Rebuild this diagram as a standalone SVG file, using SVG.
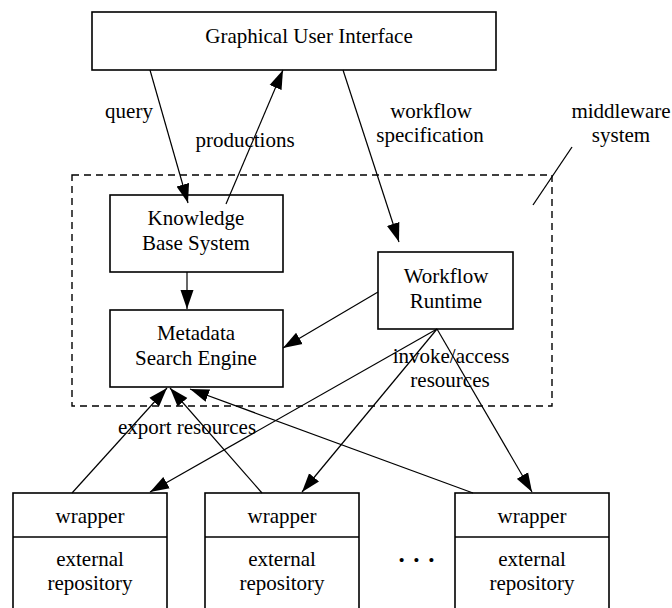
<svg xmlns="http://www.w3.org/2000/svg" width="672" height="608" viewBox="0 0 672 608">
<style>
text{font-family:"Liberation Serif","Times New Roman",serif;font-size:21px;fill:#000;text-anchor:middle}
.box{fill:#fff;stroke:#000;stroke-width:1.6}
.edge{stroke:#000;stroke-width:1.2;fill:none;marker-end:url(#ah)}
.plain{stroke:#000;stroke-width:1.3;fill:none}
</style>
<defs>
<marker id="ah" markerUnits="userSpaceOnUse" markerWidth="20" markerHeight="14" viewBox="0 0 20 14" refX="19" refY="7" orient="auto">
<path d="M0,0.5 L19,7 L0,13.5 z" fill="#000"/>
</marker>
</defs>
<rect width="672" height="608" fill="#fff"/>
<g id="middleware">
<rect x="72" y="175" width="480" height="231" fill="none" stroke="#000" stroke-width="1.4" stroke-dasharray="7,5"/>
<line class="plain" x1="533" y1="205" x2="572" y2="147"/>
<text x="621" y="118">middleware</text>
<text x="621" y="142">system</text>
</g>
<g id="gui">
<rect class="box" x="92" y="12" width="404" height="58"/>
<text x="309" y="43">Graphical User Interface</text>
</g>
<g id="kbs">
<rect class="box" x="110" y="195" width="173" height="77"/>
<text x="196" y="225">Knowledge</text>
<text x="196" y="250">Base System</text>
</g>
<g id="mse">
<rect class="box" x="110" y="310" width="173" height="77"/>
<text x="196" y="340">Metadata</text>
<text x="196" y="365">Search Engine</text>
</g>
<g id="wfr">
<rect class="box" x="378" y="252" width="135" height="77"/>
<text x="446" y="283">Workflow</text>
<text x="446" y="308">Runtime</text>
</g>
<g id="repo1">
<rect class="box" x="13" y="493" width="154" height="130"/>
<line class="plain" x1="13" y1="537" x2="167" y2="537" stroke-width="1.6"/>
<text x="90" y="523">wrapper</text>
<text x="90" y="566">external</text>
<text x="90" y="590">repository</text>
</g>
<g id="repo2">
<rect class="box" x="205" y="493" width="154" height="130"/>
<line class="plain" x1="205" y1="537" x2="359" y2="537" stroke-width="1.6"/>
<text x="282" y="523">wrapper</text>
<text x="282" y="566">external</text>
<text x="282" y="590">repository</text>
</g>
<g id="repo3">
<rect class="box" x="455" y="493" width="154" height="130"/>
<line class="plain" x1="455" y1="537" x2="609" y2="537" stroke-width="1.6"/>
<text x="532" y="523">wrapper</text>
<text x="532" y="566">external</text>
<text x="532" y="590">repository</text>
</g>
<g id="ellipsis">
<text x="417" y="562" style="font-size:25px;font-weight:bold;letter-spacing:1.2px">. . .</text>
</g>
<g id="connectors">
<line class="edge" x1="150" y1="70" x2="188" y2="203"/>
<line class="edge" x1="226" y1="204" x2="283" y2="70"/>
<line class="edge" x1="343" y1="70" x2="399" y2="242"/>
<line class="edge" x1="187" y1="272" x2="187" y2="309"/>
<line class="edge" x1="378" y1="292" x2="283" y2="348"/>
<line class="edge" x1="437" y1="329" x2="150" y2="492"/>
<line class="edge" x1="437" y1="329" x2="302" y2="492"/>
<line class="edge" x1="437" y1="329" x2="532" y2="492"/>
<line class="edge" x1="72" y1="493" x2="167" y2="388"/>
<line class="edge" x1="262" y1="493" x2="170" y2="388"/>
<line class="edge" x1="473" y1="493" x2="190" y2="389"/>
</g>
<g id="labels">
<text x="129" y="118">query</text>
<text x="245" y="147">productions</text>
<text x="431" y="118">workflow</text>
<text x="430" y="142">specification</text>
<text x="451" y="363">invoke/access</text>
<text x="450" y="387">resources</text>
<text x="187" y="434">export resources</text>
</g>
</svg>
